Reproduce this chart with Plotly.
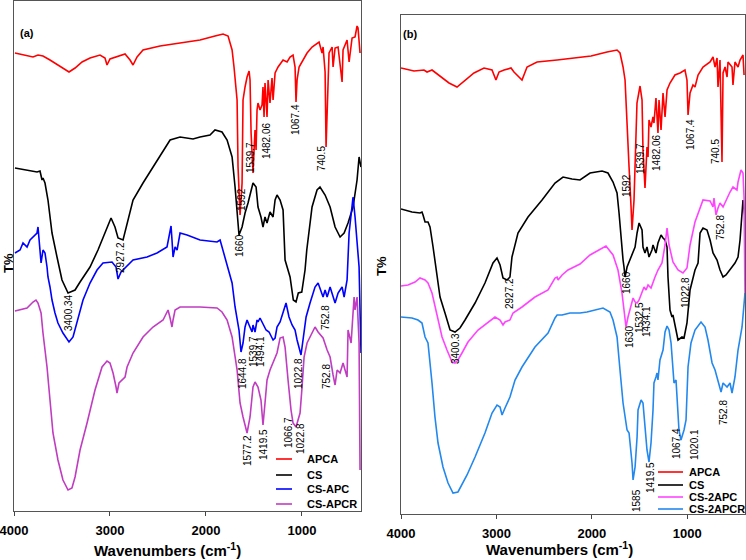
import plotly.graph_objects as go

# ---------------- Panel (a) data (wavenumber cm-1, T% arbitrary offset units) ----------------
a_apca_wn = [3990, 3885, 3802, 3750, 3698, 3625, 3521, 3427, 3364, 3291, 3208, 3104, 3052, 3031, 3000, 2968, 2916, 2843, 2791, 2760, 2718, 2656, 2479, 2270, 2062, 1906, 1822, 1770, 1728, 1708, 1676, 1666, 1645, 1624, 1614, 1593, 1572, 1551, 1541, 1530, 1510, 1499, 1489, 1478, 1468, 1458, 1437, 1416, 1406, 1395, 1385, 1364, 1353, 1333, 1312, 1301, 1280, 1249, 1197, 1155, 1124, 1093, 1072, 1062, 1051, 1030, 989, 947, 895, 843, 822, 791, 780, 759, 749, 728, 718, 686, 676, 655, 624, 582, 572, 530, 509, 478, 447, 426, 416, 395]
a_apca_t = [458, 456, 454, 456, 455, 451, 445, 439, 443, 449, 453, 456, 453, 446, 452, 453, 455, 457, 451, 446, 454, 461, 465, 468, 471, 475, 477, 475, 461, 444, 411, 344, 296, 328, 411, 424, 434, 440, 431, 378, 338, 361, 381, 361, 401, 408, 401, 406, 424, 394, 428, 394, 431, 408, 433, 411, 438, 444, 451, 449, 454, 456, 444, 409, 431, 444, 451, 458, 464, 468, 469, 458, 464, 439, 364, 428, 458, 464, 444, 463, 464, 429, 461, 471, 449, 473, 474, 485, 483, 458]

a_cs_wn = [3990, 3760, 3729, 3708, 3698, 3677, 3646, 3604, 3552, 3500, 3437, 3364, 3312, 3208, 3125, 3031, 2989, 2948, 2916, 2864, 2822, 2760, 2656, 2510, 2374, 2270, 2135, 2062, 1958, 1906, 1833, 1780, 1728, 1697, 1676, 1656, 1624, 1593, 1562, 1520, 1510, 1478, 1458, 1427, 1406, 1385, 1364, 1333, 1301, 1280, 1260, 1228, 1197, 1176, 1142, 1124, 1090, 1062, 1038, 1002, 968, 950, 895, 843, 812, 759, 707, 655, 603, 561, 520, 468, 426, 405, 385]
a_cs_t = [343, 339, 340, 331, 333, 328, 311, 278, 254, 231, 218, 221, 229, 244, 261, 284, 293, 284, 273, 271, 288, 311, 328, 351, 371, 374, 372, 374, 376, 381, 379, 371, 354, 324, 294, 276, 284, 298, 308, 324, 328, 324, 304, 294, 284, 294, 288, 299, 294, 311, 316, 311, 301, 251, 238, 234, 211, 209, 218, 219, 241, 261, 304, 321, 324, 316, 304, 284, 274, 278, 288, 304, 331, 354, 344]

a_csapc_wn = [3990, 3937, 3906, 3864, 3833, 3802, 3760, 3750, 3739, 3718, 3698, 3677, 3656, 3646, 3625, 3604, 3573, 3542, 3490, 3427, 3385, 3343, 3281, 3208, 3135, 3073, 2979, 2937, 2916, 2885, 2843, 2760, 2614, 2510, 2406, 2385, 2364, 2354, 2343, 2322, 2301, 2270, 2197, 2062, 1885, 1853, 1822, 1770, 1728, 1697, 1676, 1656, 1635, 1614, 1593, 1572, 1551, 1520, 1510, 1489, 1468, 1458, 1437, 1416, 1406, 1374, 1343, 1301, 1280, 1260, 1228, 1197, 1166, 1135, 1103, 1072, 1051, 1010, 989, 957, 916, 864, 832, 801, 780, 759, 738, 707, 676, 655, 624, 582, 561, 530, 509, 468, 447, 426, 405, 385]
a_csapc_t = [258, 261, 268, 264, 271, 274, 278, 284, 268, 248, 261, 258, 244, 234, 224, 211, 198, 188, 178, 169, 174, 188, 211, 228, 241, 248, 249, 244, 232, 239, 243, 251, 254, 258, 264, 273, 285, 271, 254, 264, 261, 278, 276, 271, 269, 271, 261, 244, 228, 204, 191, 181, 159, 168, 184, 191, 186, 179, 186, 179, 191, 189, 193, 189, 186, 181, 179, 171, 173, 184, 189, 199, 208, 194, 186, 181, 171, 156, 171, 194, 208, 224, 228, 219, 214, 221, 214, 224, 213, 208, 218, 224, 214, 231, 278, 314, 294, 271, 244, 158]

a_csapcr_wn = [3990, 3864, 3802, 3771, 3750, 3718, 3698, 3656, 3625, 3594, 3542, 3490, 3437, 3396, 3364, 3312, 3239, 3156, 3083, 3031, 3000, 2968, 2937, 2927, 2906, 2875, 2843, 2822, 2760, 2656, 2552, 2447, 2395, 2374, 2354, 2343, 2322, 2270, 2062, 1885, 1833, 1780, 1728, 1676, 1645, 1614, 1572, 1541, 1510, 1489, 1458, 1427, 1406, 1385, 1364, 1333, 1301, 1260, 1228, 1197, 1176, 1155, 1145, 1114, 1093, 1062, 1041, 1020, 999, 978, 947, 895, 864, 832, 780, 738, 707, 676, 655, 634, 603, 572, 551, 530, 520, 488, 468, 457, 447, 426, 405, 395]
a_csapcr_t = [200, 203, 209, 211, 208, 198, 178, 144, 111, 78, 51, 31, 21, 23, 34, 61, 88, 121, 144, 150, 148, 138, 124, 118, 128, 131, 134, 144, 158, 174, 184, 191, 201, 193, 184, 191, 201, 204, 204, 203, 199, 191, 174, 141, 108, 94, 78, 94, 124, 129, 124, 111, 86, 108, 131, 141, 148, 158, 173, 174, 164, 138, 131, 101, 88, 84, 91, 98, 124, 154, 168, 179, 184, 179, 173, 161, 154, 136, 126, 141, 138, 148, 141, 134, 181, 168, 198, 214, 201, 214, 168, 41]

# ---------------- Panel (b) data ----------------
b_apca_wn = [4000, 3864, 3759, 3727, 3675, 3581, 3497, 3413, 3319, 3235, 3130, 3046, 3005, 2973, 2920, 2847, 2816, 2732, 2679, 2574, 2364, 2186, 2008, 1841, 1736, 1705, 1673, 1652, 1631, 1610, 1589, 1579, 1558, 1537, 1527, 1495, 1474, 1464, 1443, 1422, 1411, 1401, 1380, 1359, 1349, 1328, 1307, 1296, 1275, 1254, 1233, 1212, 1181, 1129, 1076, 1024, 1003, 992, 971, 940, 919, 887, 835, 761, 730, 709, 688, 678, 657, 636, 625, 604, 583, 573, 531, 521, 500, 468, 447, 416, 405]
b_apca_t = [446, 443, 444, 442, 444, 437, 431, 427, 434, 441, 446, 444, 434, 442, 444, 446, 442, 434, 447, 452, 454, 456, 458, 462, 464, 461, 447, 434, 397, 347, 307, 284, 314, 381, 411, 428, 414, 364, 326, 367, 357, 394, 387, 397, 391, 416, 381, 414, 384, 421, 397, 424, 431, 439, 441, 444, 434, 399, 421, 429, 427, 439, 447, 452, 457, 447, 456, 427, 454, 352, 441, 447, 437, 452, 447, 429, 452, 447, 454, 459, 439]

b_cs_wn = [4000, 3885, 3801, 3780, 3769, 3748, 3717, 3696, 3664, 3622, 3591, 3539, 3486, 3434, 3382, 3329, 3224, 3120, 3036, 2994, 2962, 2931, 2889, 2858, 2837, 2774, 2669, 2522, 2386, 2302, 2208, 2124, 2019, 1893, 1831, 1778, 1736, 1715, 1694, 1673, 1663, 1652, 1631, 1600, 1568, 1547, 1526, 1505, 1474, 1464, 1443, 1422, 1401, 1370, 1359, 1328, 1307, 1275, 1254, 1233, 1212, 1202, 1181, 1160, 1150, 1118, 1097, 1055, 1034, 1003, 971, 919, 887, 866, 835, 793, 761, 730, 688, 657, 625, 594, 552, 500, 468, 447, 416, 395]
b_cs_t = [305, 302, 301, 302, 299, 292, 292, 287, 267, 237, 217, 201, 184, 182, 186, 194, 211, 231, 251, 256, 249, 236, 234, 237, 257, 281, 297, 314, 331, 337, 335, 334, 341, 343, 341, 332, 321, 301, 274, 254, 247, 237, 247, 254, 261, 267, 281, 291, 284, 267, 261, 267, 257, 264, 269, 261, 271, 279, 276, 274, 267, 237, 204, 197, 199, 184, 174, 177, 176, 191, 224, 244, 251, 281, 286, 284, 274, 261, 254, 244, 237, 239, 244, 251, 257, 274, 314, 297]

b_cs2apc_wn = [4000, 3927, 3853, 3801, 3748, 3717, 3675, 3622, 3570, 3518, 3465, 3434, 3403, 3361, 3298, 3193, 3088, 3015, 2962, 2931, 2910, 2858, 2826, 2732, 2596, 2459, 2386, 2364, 2354, 2312, 2250, 2124, 2019, 1852, 1778, 1726, 1684, 1663, 1642, 1621, 1589, 1568, 1547, 1526, 1505, 1474, 1453, 1432, 1411, 1380, 1359, 1338, 1307, 1265, 1233, 1212, 1191, 1150, 1097, 1045, 1003, 971, 919, 866, 835, 761, 730, 720, 699, 678, 657, 625, 583, 552, 521, 479, 468, 437, 416, 405, 395]
b_cs2apc_t = [228, 229, 232, 236, 234, 231, 221, 197, 177, 164, 152, 151, 154, 161, 172, 184, 192, 197, 194, 189, 192, 194, 201, 207, 217, 224, 236, 237, 234, 239, 244, 250, 259, 268, 259, 244, 221, 201, 187, 197, 209, 216, 212, 211, 214, 221, 227, 224, 229, 226, 232, 237, 244, 251, 269, 286, 269, 252, 244, 241, 246, 269, 292, 307, 314, 313, 307, 316, 299, 306, 311, 307, 316, 322, 327, 324, 332, 344, 341, 317, 214]

b_cs2apcr_wn = [4000, 3885, 3822, 3780, 3748, 3717, 3675, 3644, 3612, 3560, 3507, 3455, 3403, 3350, 3308, 3224, 3120, 3046, 2994, 2962, 2941, 2910, 2858, 2805, 2732, 2596, 2459, 2386, 2364, 2312, 2229, 2124, 2051, 1883, 1810, 1778, 1736, 1705, 1673, 1631, 1610, 1579, 1568, 1547, 1526, 1516, 1484, 1464, 1443, 1422, 1401, 1380, 1359, 1349, 1328, 1317, 1307, 1286, 1254, 1233, 1212, 1191, 1170, 1150, 1139, 1118, 1108, 1087, 1066, 1045, 1034, 1013, 992, 961, 919, 856, 814, 783, 740, 709, 678, 646, 625, 583, 552, 531, 500, 468, 426, 405, 395]
b_cs2apcr_t = [197, 196, 194, 191, 177, 171, 131, 97, 71, 47, 31, 21, 22, 31, 39, 57, 81, 101, 109, 107, 99, 106, 117, 134, 147, 167, 181, 196, 199, 199, 201, 201, 202, 206, 202, 194, 177, 144, 111, 84, 81, 51, 34, 47, 77, 104, 114, 111, 91, 64, 52, 71, 104, 131, 137, 141, 134, 154, 164, 182, 188, 184, 171, 141, 131, 134, 117, 84, 74, 81, 84, 94, 147, 171, 184, 192, 187, 174, 151, 144, 134, 122, 131, 127, 131, 121, 137, 164, 187, 214, 221]

# Peak labels: (text, wavenumber position, T position)
a_peak_labels = [("1592", 1635, 311), ("1539.7", 1541, 353), ("1482.06", 1374, 370), ("1067.4", 1072, 391),
                 ("740.5", 801, 352), ("1660", 1656, 265), ("2927.2", 2896, 254), ("3400.34", 3437, 198),
                 ("1644.8", 1624, 137), ("1539.7", 1510, 159), ("1494.1", 1437, 159), ("1022.8", 1041, 137),
                 ("752.8", 759, 193), ("752.8", 749, 134), ("1577.2", 1572, 60), ("1419.5", 1406, 66),
                 ("1066.7", 1145, 78), ("1022.8", 1020, 72)]
b_peak_labels = [("1592", 1642, 328), ("1539.7", 1495, 355), ("1482.06", 1328, 362), ("1067.4", 971, 379),
                 ("740.5", 709, 362), ("752.8", 657, 286), ("1660", 1642, 231), ("1022.8", 1024, 222),
                 ("2927.2", 2868, 220), ("3400.3", 3434, 165), ("1630", 1610, 177), ("1532.5", 1505, 196),
                 ("1434.1", 1432, 192), ("752.8", 625, 101), ("1067.4", 1118, 70), ("1020.1", 929, 69),
                 ("1419.5", 1390, 36), ("1585", 1537, 13)]

tick_vals = [4000, 3000, 2000, 1000]
tick_text = ["4000", "3000", "2000", "1000"]

a_names = ["APCA", "CS", "CS-APC", "CS-APCR"]
a_colors = ["#FF0000", "#000000", "#0000FF", "#C03CC0"]
b_names = ["APCA", "CS", "CS-2APC", "CS-2APCR"]
b_colors = ["#FF0000", "#000000", "#FF44FF", "#2288EE"]

FONT = "Liberation Sans, Arial, sans-serif"
W, H = 746, 560

fig = go.Figure()
a_series = [(a_apca_wn, a_apca_t), (a_cs_wn, a_cs_t), (a_csapc_wn, a_csapc_t), (a_csapcr_wn, a_csapcr_t)]
b_series = [(b_apca_wn, b_apca_t), (b_cs_wn, b_cs_t), (b_cs2apc_wn, b_cs2apc_t), (b_cs2apcr_wn, b_cs2apcr_t)]
for (xw, yt), nm, c in zip(a_series, a_names, a_colors):
    fig.add_trace(go.Scatter(x=xw, y=yt, name=nm, mode="lines", line=dict(color=c, width=1.6),
                             xaxis="x", yaxis="y", showlegend=False))
for (xw, yt), nm, c in zip(b_series, b_names, b_colors):
    fig.add_trace(go.Scatter(x=xw, y=yt, name=nm, mode="lines", line=dict(color=c, width=1.6),
                             xaxis="x2", yaxis="y2", showlegend=False))

def px(x):
    return x / W

def py(y):
    return (H - y) / H

xcommon = dict(tickvals=tick_vals, ticktext=["<b>%s</b>" % t for t in tick_text], ticks="outside", ticklen=4,
               tickcolor="#444", tickfont=dict(family=FONT, size=13, color="black"), showline=True, mirror=True,
               linecolor="#555", linewidth=1, showgrid=False, zeroline=False, automargin=False,
               ticklabelstandoff=3, ticklabeloverflow="allow")
ycommon = dict(showticklabels=False, ticks="", showline=True, mirror=True, linecolor="#555", linewidth=1,
               showgrid=False, zeroline=False, automargin=False)

fig.update_layout(
    template="none",
    width=W, height=H, margin=dict(l=0, r=0, t=0, b=0, pad=0, autoexpand=False),
    paper_bgcolor="white", plot_bgcolor="white", showlegend=False,
    font=dict(family=FONT, color="black"),
    xaxis=dict(domain=[px(14), px(361)], range=[4000, 385], anchor="y", **xcommon),
    yaxis=dict(domain=[py(511), py(1)], range=[0, 510], anchor="x", **ycommon),
    xaxis2=dict(domain=[px(401), px(745)], range=[4000, 395], anchor="y2", **xcommon),
    yaxis2=dict(domain=[py(514), py(15)], range=[0, 499], anchor="x2", **ycommon),
)

ann = []
for txt, xv, yv in a_peak_labels:
    ann.append(dict(text=txt, x=xv, y=yv, xref="x", yref="y", showarrow=False, textangle=-90,
                    xanchor="center", yanchor="middle", font=dict(family=FONT, size=10, color="black")))
for txt, xv, yv in b_peak_labels:
    ann.append(dict(text=txt, x=xv, y=yv, xref="x2", yref="y2", showarrow=False, textangle=-90,
                    xanchor="center", yanchor="middle", font=dict(family=FONT, size=10, color="black")))

# panel tags, axis titles
ann.append(dict(text="<b>(a)</b>", x=px(27), y=py(33), xref="paper", yref="paper", showarrow=False,
                xanchor="center", yanchor="middle", font=dict(family=FONT, size=11, color="black")))
ann.append(dict(text="<b>(b)</b>", x=px(410), y=py(34), xref="paper", yref="paper", showarrow=False,
                xanchor="center", yanchor="middle", font=dict(family=FONT, size=11, color="black")))
for xx, yy in [(8, 263), (381, 266)]:
    ann.append(dict(text="<b>T%</b>", x=px(xx), y=py(yy), xref="paper", yref="paper", showarrow=False,
                    xanchor="center", yanchor="middle", textangle=-90,
                    font=dict(family=FONT, size=13, color="black")))
for xx, yy in [(167, 549), (559, 548)]:
    ann.append(dict(text="<b>Wavenumbers (cm<sup>-1</sup>)</b>", x=px(xx), y=py(yy), xref="paper", yref="paper",
                    xanchor="center", yanchor="middle", showarrow=False,
                    font=dict(family=FONT, size=15, color="black")))

# manual legends
shapes = []
a_leg_y = [459, 475, 489, 504]
for nm, c, yy in zip(a_names, a_colors, a_leg_y):
    shapes.append(dict(type="line", xref="paper", yref="paper", x0=px(276), x1=px(292), y0=py(yy), y1=py(yy),
                       line=dict(color=c, width=1.6)))
    ann.append(dict(text="<b>%s</b>" % nm, x=px(305), y=py(yy), xref="paper", yref="paper", xanchor="left",
                    yanchor="middle", showarrow=False, font=dict(family=FONT, size=11, color="black")))
b_leg_y = [472, 485, 497, 509]
for nm, c, yy in zip(b_names, b_colors, b_leg_y):
    shapes.append(dict(type="line", xref="paper", yref="paper", x0=px(658), x1=px(683), y0=py(yy), y1=py(yy),
                       line=dict(color=c, width=1.6)))
    ann.append(dict(text="<b>%s</b>" % nm, x=px(687), y=py(yy), xref="paper", yref="paper", xanchor="left",
                    yanchor="middle", showarrow=False, font=dict(family=FONT, size=11, color="black")))

fig.update_layout(annotations=ann, shapes=shapes)
fig.write_html("out.html", config={"displayModeBar": False},
               post_script="document.body.style.margin='0px';document.body.style.padding='0px';")
